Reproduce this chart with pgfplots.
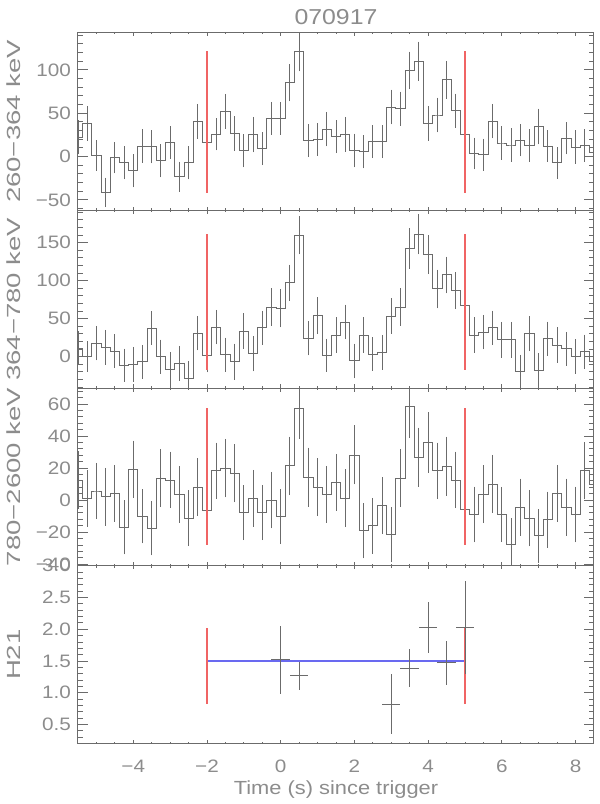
\documentclass[border=0pt]{standalone}
\usepackage{pgfplots}
\pgfplotsset{compat=1.18}
\usepgfplotslibrary{groupplots}
\usepackage{pgfplotstable}
\usepackage{fontspec}
\setmainfont{Liberation Sans}[FakeStretch=1.15]
\newfontfamily\labfont{Liberation Sans}[FakeStretch=1.45]

\definecolor{txt}{gray}{0.55}
\definecolor{ln}{gray}{0.42}
\definecolor{rl}{RGB}{240,100,100}
\definecolor{bl}{RGB}{105,105,240}

% light curves, 0.25 s bins: counts and errors per band
\pgfplotstableread{
t c1 e1 c2 e2 c3 e3
-5.50 22.0 17.0 11.1 19.0 12.6 16.5
-5.25 38.2 17.5 0.0 17.0 1.1 16.4
-5.00 1.2 14.8 17.7 19.8 5.7 16.2
-4.75 -41.3 14.4 12.4 19.8 2.1 16.6
-4.50 -1.6 15.2 7.1 19.4 4.2 16.4
-4.25 -7.4 16.4 -11.4 19.0 -17.0 15.5
-4.00 -16.4 16.4 -10.0 19.8 19.3 16.4
-3.75 12.0 16.8 -7.0 19.4 -10.1 15.5
-3.50 11.2 16.4 37.5 19.4 -17.6 15.5
-3.25 -5.1 16.4 0.0 19.4 13.7 16.6
-3.00 16.0 16.4 -16.7 19.8 12.6 16.2
-2.75 -23.4 14.8 -8.8 19.8 3.6 16.2
-2.50 -7.4 16.4 -28.6 19.8 -11.3 16.0
-2.25 40.5 17.5 30.9 19.8 8.0 16.6
-2.00 16.0 16.4 1.3 19.0 -6.5 15.8
-1.75 25.7 16.0 38.8 19.8 18.3 16.2
-1.50 52.2 17.5 2.6 19.4 20.0 16.8
-1.25 26.5 17.5 -6.6 20.7 16.8 16.8
-1.00 6.6 16.4 33.6 20.3 -7.8 15.8
-0.75 25.3 17.9 4.0 20.3 1.1 16.4
-0.50 9.0 16.4 38.0 19.4 -7.8 15.8
-0.25 44.1 16.4 65.3 21.6 0.0 16.2
0.00 44.1 16.4 63.5 22.0 -10.3 15.8
0.25 85.0 18.7 97.5 20.7 21.4 16.8
0.50 121.3 20.3 159.7 22.0 57.1 17.6
0.75 18.3 16.4 24.3 19.8 14.3 17.0
1.00 19.5 16.0 53.8 21.2 8.0 16.6
1.25 31.6 17.2 1.8 19.0 3.6 16.4
1.50 23.0 16.4 28.3 20.3 11.1 16.4
1.75 25.7 17.5 45.5 19.8 1.1 16.6
2.00 7.0 16.8 -5.7 19.8 28.2 17.0
2.25 5.5 16.4 28.3 20.3 -19.1 15.8
2.50 17.2 16.4 3.2 19.0 -16.0 16.0
2.75 17.2 16.4 5.8 19.8 -3.4 16.4
3.00 57.1 17.5 53.4 20.3 -21.6 15.8
3.25 55.1 17.2 65.3 21.6 13.7 16.6
3.50 99.2 19.1 142.0 23.8 58.4 18.3
3.75 110.1 19.9 161.0 23.4 26.9 17.0
4.00 38.2 17.5 134.0 22.5 35.9 17.4
4.25 47.9 17.5 89.1 22.5 18.3 16.2
4.50 88.6 19.1 107.6 21.2 21.2 17.0
4.75 52.8 17.2 86.9 21.2 12.6 16.2
5.00 25.3 17.9 68.0 21.2 -5.7 16.2
5.25 3.5 15.6 28.3 20.3 -9.0 16.0
5.50 2.0 16.0 32.2 19.8 3.6 16.6
5.75 40.9 17.2 38.0 19.4 10.1 16.8
6.00 15.6 16.8 22.0 20.7 -9.0 15.8
6.25 13.3 16.4 22.0 20.7 -27.9 15.1
6.50 18.7 16.0 -19.3 19.0 -4.4 16.4
6.75 12.9 16.0 30.0 19.8 -11.3 16.2
7.00 34.7 17.9 -17.6 19.0 -22.3 15.3
7.25 12.0 15.6 23.4 19.8 -12.2 16.0
7.50 -7.4 15.6 15.0 20.3 4.2 16.4
7.75 21.1 16.0 10.2 19.4 -4.4 16.4
8.00 11.0 16.8 0.0 19.8 -9.0 16.0
8.25 12.5 16.4 6.2 19.8 18.3 16.4
8.50 5.0 16.0 -6.6 19.0 9.9 16.0
}\lc

\pgfplotsset{
  hist/.style={color=ln, line width=0.45pt, const plot mark mid, mark=none,
    error bars/.cd, y dir=both, y explicit,
    error bar style={color=ln, line width=0.45pt},
    error mark options={color=ln, mark size=1.15pt, line width=0.45pt}},
  tline/.style={color=rl, line width=0.75pt, unbounded coords=jump},
}

\begin{document}
\begin{tikzpicture}
\begin{groupplot}[
  group style={group size=1 by 4, vertical sep=0pt, group name=G},
  width=258pt, height=88.875pt, scale only axis,
  xmin=-5.5, xmax=8.5,
  xtick={-4,-2,...,8}, xticklabels={},
  minor xtick={-5,-4.5,-3.5,-3,-2.5,-1.5,-1,-0.5,0.5,1,1.5,2.5,3,3.5,4.5,5,5.5,6.5,7,7.5},
  axis line style={ln, line width=0.5pt},
  tick style={ln, line width=0.45pt},
  xtick style={/pgfplots/major tick length=1.8pt, /pgfplots/minor tick length=0.9pt},
  ytick style={/pgfplots/major tick length=5pt, /pgfplots/minor tick length=2.5pt},
  tick label style={txt, font=\fontsize{9}{10}\selectfont},
  ylabel style={txt, font=\labfont\fontsize{9.5}{11}\selectfont,
    at={(axis description cs:-0.124,0.5)}, anchor=center},
]
\nextgroupplot[ymin=-62, ymax=143,
  ytick={-50,0,50,100}, yticklabels={−50,0,50,100},
  minor ytick={-60,-40,-30,-20,-10,10,20,30,40,60,70,80,90,110,120,130,140},
  ylabel={260−364 keV},
  title={070917},
  title style={txt, font=\fontsize{10.8}{12}\selectfont, at={(0.5,1)}, anchor=center, yshift=1.5pt}]
\addplot[hist] table[x=t, y=c1, y error=e1] {\lc};
\addplot[tline] coordinates {(-2,-41.8) (-2,121.3) (nan,nan) (5,-41.8) (5,121.3)};

\nextgroupplot[ymin=-41.4, ymax=192.7,
  ytick={0,50,100,150}, yticklabels={0,50,100,150},
  minor ytick={-40,-30,-20,-10,10,20,30,40,60,70,80,90,110,120,130,140,160,170,180,190},
  ylabel={364−780 keV}]
\addplot[hist] table[x=t, y=c2, y error=e2] {\lc};
\addplot[tline] coordinates {(-2,-17.6) (-2,161.4) (nan,nan) (5,-17.6) (5,161.4)};

\nextgroupplot[ymin=-41, ymax=70,
  ytick={-40,-20,0,20,40,60}, yticklabels={−40,−20,0,20,40,60},
  minor ytick={-36,-32,-28,-24,-16,-12,-8,-4,4,8,12,16,24,28,32,36,44,48,52,56,64,68},
  ylabel={780−2600 keV}]
\addplot[hist] table[x=t, y=c3, y error=e3] {\lc};
\addplot[tline] coordinates {(-2,-27.9) (-2,57.8) (nan,nan) (5,-27.9) (5,57.8)};

\nextgroupplot[ymin=0.2, ymax=3.0,
  ytick={0.5,1,1.5,2,2.5,3}, yticklabels={0.5,1.0,1.5,2.0,2.5,3.0},
  minor ytick={0.3,0.4,0.6,0.7,0.8,0.9,1.1,1.2,1.3,1.4,1.6,1.7,1.8,1.9,2.1,2.2,2.3,2.4,2.6,2.7,2.8,2.9},
  ylabel={H21},
  xticklabels={−4,−2,0,2,4,6,8},
  xticklabel style={yshift=-4.6pt},
  xlabel={Time (s) since trigger},
  xlabel style={txt, font=\fontsize{9.5}{11}\selectfont,
    at={(axis description cs:0.5,-0.257)}, anchor=center}]
\addplot[color=bl, line width=0.75pt] coordinates {(5,1.5) (-2,1.5)};
\addplot[tline] coordinates {(-2,0.82) (-2,2.02) (nan,nan) (5,0.82) (5,2.02)};
\addplot[draw=none, mark=none,
  error bars/.cd, x dir=both, y dir=both, x explicit, y explicit,
  error mark=none, error bar style={draw=ln, line width=0.45pt}]
  coordinates {
    (0,1.52)   += (0.25,0.53) -= (0.25,0.54)
    (0.5,1.27) += (0.25,0.22) -= (0.25,0.22)
    (3,0.82)   += (0.25,0.47) -= (0.25,0.47)
    (3.5,1.38) += (0.25,0.31) -= (0.25,0.29)
    (4,2.03)   += (0.25,0.40) -= (0.25,0.41)
    (4.5,1.47) += (0.25,0.35) -= (0.25,0.35)
    (5,2.03)   += (0.25,0.73) -= (0.25,0.74)
  };
\end{groupplot}
\pgfresetboundingbox
\path ([xshift=-39pt,yshift=16.265pt]G c1r1.north west) rectangle ([xshift=3pt,yshift=-30.235pt]G c1r4.south east);
\end{tikzpicture}
\end{document}
